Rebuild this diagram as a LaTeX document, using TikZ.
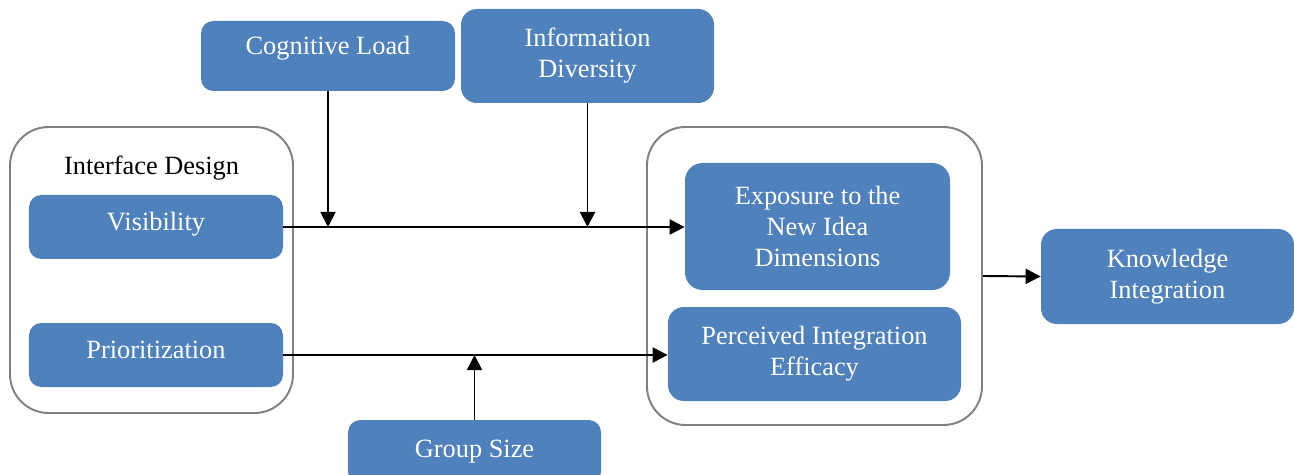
\documentclass[tikz,border=0pt]{standalone}
\usepackage{fontspec}
\setmainfont{Liberation Serif}
\usetikzlibrary{positioning, arrows.meta}
\usepackage{xcolor}
\definecolor{boxblue}{HTML}{4F81BD}
\definecolor{framegray}{HTML}{808080}

\begin{document}
\begin{tikzpicture}[
                factor/.style={rectangle, draw=none, rounded corners=7pt, minimum width=5.08cm, minimum height=1.28cm, align=center, fill=boxblue, text=white, font=\fontsize{15}{17.6}\selectfont, inner sep=0pt},
                group/.style={rectangle, draw=framegray, line width=1.1pt, rounded corners=22pt, fill=none},
                arrow/.style={-{Triangle[length=0.3cm, width=0.3cm]}, line width=1.1pt, black}
            ]
            \clip (0,0) rectangle (25.88,-9.5);
            \node[group, minimum width=5.66cm, minimum height=5.72cm] (ifgroup) at (3.03,-5.40) {};
            \node[group, minimum width=6.70cm, minimum height=5.96cm] (outgroup) at (16.29,-5.52) {};
            \node[font=\fontsize{15}{17.6}\selectfont] (iftitle) at (3.03,-3.36) {Interface Design};

            \node[factor, text depth=0.22cm] (visib) at (3.12,-4.54) {Visibility};
            \node[factor, text depth=0.22cm] (prior) at (3.12,-7.10) {Prioritization};
            \node[factor, minimum height=1.40cm, text depth=0.42cm] (cogload) at (6.56,-1.12) {Cognitive Load};
            \node[factor, minimum width=5.06cm, minimum height=1.88cm, rounded corners=9pt] (infodiv) at (11.75,-1.12) {Information\\Diversity};
            \node[factor, minimum width=5.30cm, minimum height=2.54cm, rounded corners=10pt] (expos) at (16.35,-4.53) {Exposure to the\\New Idea\\Dimensions};
            \node[factor, minimum width=5.86cm, minimum height=1.88cm, rounded corners=9pt] (percv) at (16.29,-7.08) {Perceived Integration\\Efficacy};
            \node[factor, minimum width=5.06cm, minimum height=1.90cm, rounded corners=9pt] (knowl) at (23.35,-5.53) {Knowledge\\Integration};
            \node[factor, minimum width=5.06cm] (grpsize) at (9.49,-9.04) {Group Size};

            \draw[arrow] (visib.east) -- (visib.east -| expos.west);
            \draw[arrow] (prior.east) -- (prior.east -| percv.west);
            \draw[arrow] (cogload.south) -- (cogload.south |- visib.east);
            \draw[arrow] (infodiv.south) -- (infodiv.south |- visib.east);
            \draw[arrow] (grpsize.north) -- (grpsize.north |- prior.east);
            \draw[arrow] (outgroup.east) -- (knowl.west);
        \end{tikzpicture}
\end{document}
